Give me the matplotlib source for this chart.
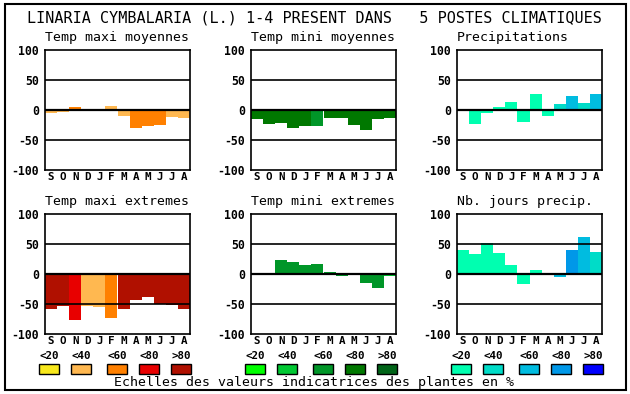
import matplotlib
matplotlib.use('Agg')
import matplotlib.pyplot as plt
from matplotlib.patches import Rectangle

# ---------------- data ----------------
months = ['S', 'O', 'N', 'D', 'J', 'F', 'M', 'A', 'M', 'J', 'J', 'A']
yticks = [-100, -50, 0, 50, 100]
ytick_labels = ['-100', '-50', '0', '50', '100']
level_labels = ['<20', '<40', '<60', '<80', '>80']

titles = ['Temp maxi moyennes', 'Temp mini moyennes', 'Precipitations',
          'Temp maxi extremes', 'Temp mini extremes', 'Nb. jours precip.']

tmax_moy = [-5, -4, 5, 2, 2, 7, -10, -30, -27, -25, -12, -14]
tmax_moy_lvl = [1, 1, 2, 2, 2, 1, 1, 2, 2, 2, 1, 1]

tmin_moy = [-15, -24, -22, -30, -27, -27, -14, -14, -25, -34, -15, -14]
tmin_moy_lvl = [3, 3, 3, 3, 3, 2, 3, 3, 3, 3, 3, 3]

precip = [0, -24, -5, 5, 14, -20, 27, -10, 10, 23, 12, 27]
precip_lvl = [0, 0, 0, 0, 0, 0, 0, 0, 1, 2, 1, 2]

tmax_ext = [-58, -53, -76, -53, -55, -73, -58, -43, -38, -50, -52, -58]
tmax_ext_lvl = [4, 4, 3, 1, 1, 2, 4, 4, 4, 4, 4, 4]

tmin_ext = [1.5, 1.5, 23, 20, 15, 17, 3, -2.5, 1.5, -15, -24, -4]
tmin_ext_lvl = [2, 2, 2, 2, 2, 2, 2, 2, 2, 2, 2, 1]

jours = [40, 33, 52, 35, 15, -16, 7, -2, -5, 40, 62, 37]
jours_lvl = [0, 0, 0, 0, 0, 0, 0, 0, 2, 3, 2, 1]

oranges = ['#f8e81c', '#ffb850', '#ff8000', '#e80000', '#b01000']
greens = ['#00ff00', '#00c832', '#009628', '#007800', '#006418']
blues = ['#00ffb0', '#00dcc8', '#00bce0', '#0098e8', '#0000ff']

title_text = 'LINARIA CYMBALARIA (L.) 1-4 PRESENT DANS   5 POSTES CLIMATIQUES'
caption = 'Echelles des valeurs indicatrices des plantes en %'

# ---------------- layout ----------------
W, H = 630, 394
MONO = 'DejaVu Sans Mono'
fig = plt.figure(figsize=(W / 100, H / 100), dpi=100)
fig.patch.set_facecolor('white')


def fx(x):
    return x / W


def fy(y):
    return 1 - y / H


col_x = [45, 251, 457]
row_y = [50, 214]
AW, AH = 145, 120
SMALL = 7.8

panels = [
    (tmax_moy, tmax_moy_lvl, oranges),
    (tmin_moy, tmin_moy_lvl, greens),
    (precip, precip_lvl, blues),
    (tmax_ext, tmax_ext_lvl, oranges),
    (tmin_ext, tmin_ext_lvl, greens),
    (jours, jours_lvl, blues),
]

for i, (vals, lvls, pal) in enumerate(panels):
    r, c = divmod(i, 3)
    x0, y0 = col_x[c], row_y[r]
    ax = fig.add_axes([fx(x0), fy(y0 + AH), AW / W, AH / H])
    ax.bar(range(12), vals, width=1.0, color=[pal[l] for l in lvls],
           linewidth=0, zorder=2)
    ax.set_xlim(-0.5, 11.5)
    ax.set_ylim(-100, 100)
    for v in (50, -50):
        ax.axhline(v, color='black', lw=1.2, zorder=3)
    ax.axhline(0, color='black', lw=1.6, zorder=3)
    ax.set_yticks(yticks)
    ax.set_yticklabels(ytick_labels, fontfamily=MONO, fontweight='bold', fontsize=8.3)
    ax.set_xticks(range(12))
    ax.set_xticklabels(months, fontfamily=MONO, fontweight='bold', fontsize=SMALL)
    ax.tick_params(axis='y', length=0, pad=4.5)
    ax.tick_params(axis='x', length=0, pad=1.5)
    for s in ax.spines.values():
        s.set_linewidth(1.2)
    fig.text(fx(x0), fy(y0 - 12), titles[i], fontfamily=MONO, fontsize=9.5,
             ha='left', va='center')

# legends under bottom row
sq_off = [-6, 26, 62, 94, 126]
for c, pal in enumerate([oranges, greens, blues]):
    for k in range(5):
        xs = col_x[c] + sq_off[k]
        fig.patches.append(Rectangle((fx(xs), fy(374)), 20 / W, 10 / H,
                                     transform=fig.transFigure, facecolor=pal[k],
                                     edgecolor='black', lw=1.0))
        fig.text(fx(xs + 10), fy(356), level_labels[k], fontfamily=MONO,
                 fontweight='bold', fontsize=SMALL, ha='center', va='center')

fig.text(fx(314), fy(382.5), caption, fontfamily=MONO, fontsize=9.5,
         ha='center', va='center')
fig.text(fx(314), fy(18), title_text, fontfamily=MONO, fontsize=10.9,
         ha='center', va='center')

fig.patches.append(Rectangle((fx(5), fy(390)), 621 / W, 386 / H,
                             transform=fig.transFigure, fill=False,
                             edgecolor='black', lw=1.5))

fig.savefig('out.png', dpi=100, facecolor='white')
